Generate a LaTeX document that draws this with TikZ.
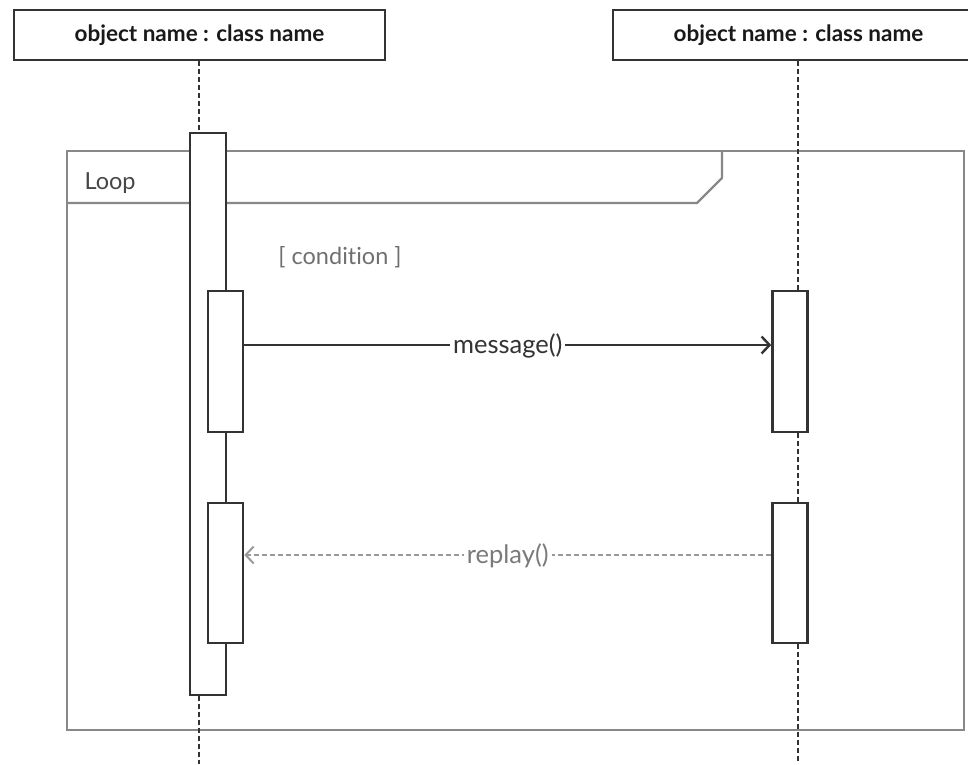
\documentclass[tikz,border=0pt]{standalone}
\usepackage{fontspec}
\setmainfont{Lato}[Ligatures=NoCommon]
\usetikzlibrary{arrows.meta}
\definecolor{ink}{HTML}{333333}
\definecolor{framegray}{HTML}{888888}
\definecolor{replygray}{HTML}{999999}
\definecolor{textgray}{HTML}{707070}
\tikzset{
  x=1pt, y=-1pt,
  header/.style={draw=ink, line width=2.2pt, fill=white, minimum width=371pt,
    minimum height=50pt, inner sep=0pt, font=\fontsize{22.5}{26}\selectfont\bfseries, text=black!90},
  actbar/.style={draw=ink, line width=2.6pt, fill=white, minimum width=35pt, inner sep=0pt},
  lifeline/.style={draw=ink, line width=1.9pt, dash pattern=on 5pt off 3pt},
  frameline/.style={draw=framegray, line width=2.2pt},
  msg/.style={draw=ink, line width=2.4pt, -{Straight Barb[length=8pt,width=17pt,line width=2.4pt]}},
  reply/.style={draw=replygray, line width=1.9pt, dash pattern=on 5pt off 3pt,
    -{Straight Barb[length=8pt,width=17pt,line width=2pt,sep=0pt]}},
  msglabel/.style={fill=white, inner sep=3pt, font=\fontsize{25.5}{28}\selectfont},
  plainlabel/.style={font=\fontsize{23.5}{26}\selectfont},
}
\begin{document}
\begin{tikzpicture}
\useasboundingbox (0,0) rectangle (968,764);
\fill[white] (0,0) rectangle (968,764);

% loop combined fragment
\draw[frameline] (67,151) rectangle (964,730);
\draw[frameline] (67,203) -- (697,203) -- (722,178) -- (722,151);
\node[plainlabel, anchor=west, text=ink!90] (looplbl) at (81,183) {Loop};
\node[plainlabel, text=textgray] (guard) at (340,257) {[ condition ]};

% object headers
\node[header] (hdrL) at (199.5,35) {object name : class name};
\node[header] (hdrR) at (798.5,35) {object name : class name};
\coordinate (colL) at (199,0);
\coordinate (colR) at (798,0);

% activation bars
\node[actbar, minimum width=36pt, minimum height=562pt] (mainL) at (208,414) {};
\node[actbar, minimum height=141pt] (actL1) at (225.5,361.5) {};
\node[actbar, minimum height=140pt] (actL2) at (225.5,573) {};
\node[actbar, minimum height=141pt] (actR1) at (790,361.5) {};
\node[actbar, minimum height=140pt] (actR2) at (790,573) {};

% lifelines
\draw[lifeline] (hdrL.south -| colL) -- (mainL.north -| colL);
\draw[lifeline] (mainL.south -| colL) -- (colL |- 0,764);
\draw[lifeline] (hdrR.south -| colR) -- (actR1.north -| colR);
\draw[lifeline] (actR1.south -| colR) -- (actR2.north -| colR);
\draw[lifeline] (actR2.south -| colR) -- (colR |- 0,764);

% messages
\draw[msg] (actL1.east |- 0,345) -- node[msglabel, text=ink, yshift=-1pt] (msgtxt) {message()} (actR1.west |- 0,345);
\draw[reply] (actR2.west |- 0,555) -- node[msglabel, text=replygray!80!black, yshift=-1pt] (reptxt) {replay()} (actL2.east |- 0,555);
\end{tikzpicture}
\end{document}
